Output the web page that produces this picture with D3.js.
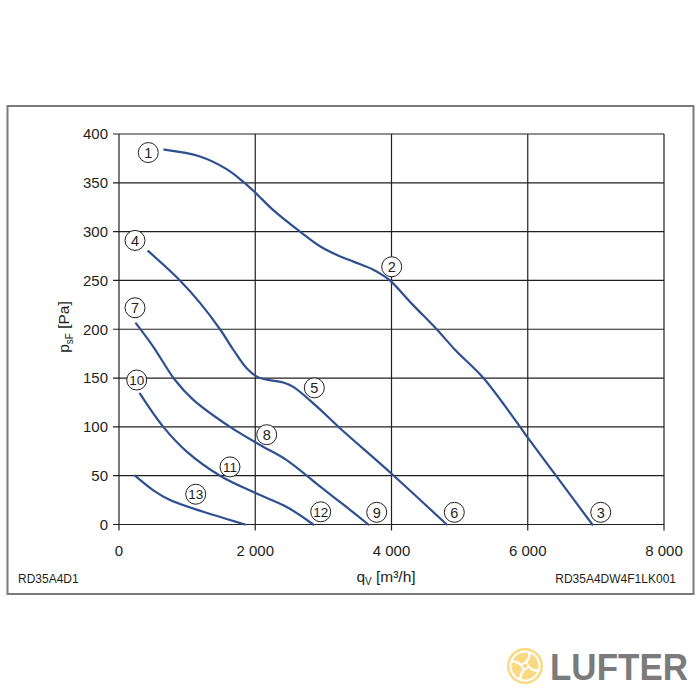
<!DOCTYPE html>
<html>
<head>
<meta charset="utf-8">
<script src="https://cdn.jsdelivr.net/npm/d3@7"></script>
<style>
  html, body { margin: 0; padding: 0; background: #fff; }
  svg { display: block; font-family: "Liberation Sans", Arial, sans-serif; }
</style>
</head>
<body>
<svg id="chart" width="700" height="700"></svg>
<script>
// ---- data ----
const xTicks = [0, 2000, 4000, 6000, 8000];
const xTickLabels = ["0", "2 000", "4 000", "6 000", "8 000"];
const yTicks = [0, 50, 100, 150, 200, 250, 300, 350, 400];

// curve 1-2-3
const qA = [665, 1189, 1580, 1825, 2000, 2265, 2657, 2950, 3200, 3450, 3733, 3880, 3993, 4300, 4663, 4932, 5349, 5887, 6000, 6415, 6948];
const pA = [384, 377, 364, 351, 340, 322, 300, 285, 276, 269, 261, 255, 249, 226, 200, 179, 150, 100, 89, 50, 0];
// curve 4-5-6
const qB = [430, 895, 1189, 1483, 1678, 1874, 2011, 2119, 2412, 2559, 2902, 3244, 3993, 4810];
const pB = [280, 250, 227, 200, 179, 160, 152, 149, 145.5, 141, 121, 98.6, 52.5, 0];
// curve 7-8-9
const qC = [250, 504, 822, 1091, 1630, 2070, 2461, 2950, 3300, 3660];
const pC = [206, 182, 148, 127.7, 100, 81.5, 66, 39, 20, 0];
// curve 10-11-12
const qD = [308, 650, 994, 1483, 2011, 2461, 2852];
const pD = [134, 100, 74.7, 50, 32, 18, 0];
// curve 13
const qE = [235, 504, 749, 1237, 1630, 1850];
const pE = [50, 35, 25, 13, 4.6, 0];

// point labels (number, q, p)
const labelNums = ["1", "2", "3", "4", "5", "6", "7", "8", "9", "10", "11", "12", "13"];
const labelQ = [430, 4003, 7071, 235, 2867, 4922, 235, 2168, 3783, 260, 1629, 2961, 1126];
const labelP = [381, 264, 12.5, 291, 140, 12.5, 222, 92, 12.5, 148, 59, 13, 31];

const curves = [[qA, pA], [qB, pB], [qC, pC], [qD, pD], [qE, pE]];

// ---- drawing ----
const svg = d3.select("#chart");
const x = d3.scaleLinear().domain([0, 8000]).range([119, 664]);
const y = d3.scaleLinear().domain([0, 400]).range([524.5, 134]);

svg.append("rect").attr("x", 0).attr("y", 0).attr("width", 700).attr("height", 700).attr("fill", "#fff");

// outer frame
svg.append("rect").attr("x", 7.5).attr("y", 106).attr("width", 686).attr("height", 488)
  .attr("fill", "none").attr("stroke", "#7a7a7a").attr("stroke-width", 2);

// grid
const grid = svg.append("g").attr("stroke", "#231f20").attr("stroke-width", 1.2);
yTicks.forEach(t => {
  grid.append("line").attr("x1", x(0) - 6).attr("x2", x(8000))
    .attr("y1", y(t)).attr("y2", y(t));
});
xTicks.forEach(t => {
  grid.append("line").attr("x1", x(t)).attr("x2", x(t))
    .attr("y1", y(400)).attr("y2", y(0) + 6);
});

// y tick labels
svg.append("g").selectAll("text").data(yTicks).join("text")
  .attr("x", x(0) - 11).attr("y", d => y(d)).attr("dy", "0.36em")
  .attr("text-anchor", "end").attr("font-size", 15).attr("fill", "#231f20")
  .text(d => d);

// x tick labels
svg.append("g").selectAll("text").data(xTicks).join("text")
  .attr("x", d => x(d)).attr("y", 556)
  .attr("text-anchor", "middle").attr("font-size", 15).attr("fill", "#231f20")
  .text((d, i) => xTickLabels[i]);

// axis titles
const yl = svg.append("text").attr("transform", "translate(69,327) rotate(-90)")
  .attr("text-anchor", "middle").attr("font-size", 15.5).attr("fill", "#231f20");
yl.append("tspan").text("p");
yl.append("tspan").attr("dy", 4).attr("font-size", 10).text("sF");
yl.append("tspan").attr("dy", -4).text(" [Pa]");

const xl = svg.append("text").attr("x", 386).attr("y", 582)
  .attr("text-anchor", "middle").attr("font-size", 15.5).attr("fill", "#231f20");
xl.append("tspan").text("q");
xl.append("tspan").attr("dy", 3).attr("font-size", 10).text("V");
xl.append("tspan").attr("dy", -3).text(" [m³/h]");

// corner notes
svg.append("text").attr("x", 18).attr("y", 583).attr("font-size", 12).attr("fill", "#231f20").text("RD35A4D1");
svg.append("text").attr("x", 676).attr("y", 583).attr("text-anchor", "end").attr("font-size", 12).attr("fill", "#231f20").text("RD35A4DW4F1LK001");

// curves
const line = d3.line().x(d => x(d[0])).y(d => y(d[1])).curve(d3.curveCatmullRom.alpha(0.5));
curves.forEach(([qs, ps]) => {
  svg.append("path").attr("d", line(qs.map((q, i) => [q, ps[i]])))
    .attr("fill", "none").attr("stroke", "#2f5090").attr("stroke-width", 2.2)
    .attr("stroke-linecap", "round");
});

// labels
const lg = svg.append("g");
labelNums.forEach((n, i) => {
  const cx = x(labelQ[i]), cy = y(labelP[i]);
  lg.append("circle").attr("cx", cx).attr("cy", cy).attr("r", 10)
    .attr("fill", "#fff").attr("stroke", "#231f20").attr("stroke-width", 1);
  lg.append("text").attr("x", cx).attr("y", cy).attr("dy", "0.36em")
    .attr("text-anchor", "middle").attr("font-size", n.length > 1 ? 13.5 : 14.5)
    .attr("fill", "#231f20").text(n);
});

// logo watermark
const logo = svg.append("g").attr("transform", "translate(525,666)");
logo.append("circle").attr("r", 18).attr("fill", "#fbd983");
logo.append("circle").attr("r", 14.5).attr("fill", "none").attr("stroke", "#fff").attr("stroke-width", 2);
[0, 90, 180, 270].forEach(a => {
  logo.append("path").attr("d", "M0,-3 C4,-7 6,-11 4,-14 M-3,0 C-7,-4 -10,-5 -13,-4")
    .attr("transform", `rotate(${a})`).attr("fill", "none").attr("stroke", "#fff").attr("stroke-width", 2);
});
logo.append("circle").attr("r", 3).attr("fill", "none").attr("stroke", "#fff").attr("stroke-width", 1.5);
svg.append("text").attr("x", 550).attr("y", 680).attr("font-size", 37).attr("font-weight", "bold")
  .attr("fill", "#7b7b7b").attr("textLength", 138).attr("lengthAdjust", "spacingAndGlyphs").text("LUFTER");
</script>
</body>
</html>
